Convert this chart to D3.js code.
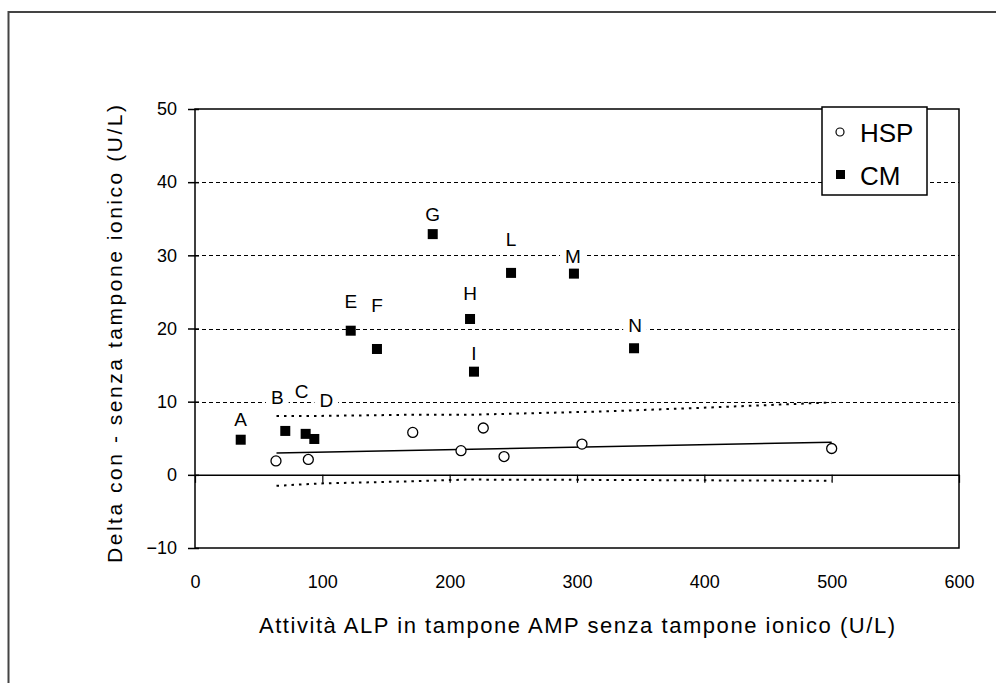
<!DOCTYPE html>
<html>
<head>
<meta charset="utf-8">
<script src="https://cdn.jsdelivr.net/npm/d3@7"></script>
<style>
  html, body { margin: 0; padding: 0; background: #fff; }
  svg text { font-family: "Liberation Sans", Arial, sans-serif; fill: #000; }
</style>
</head>
<body>
<div id="chart"></div>
<script>
// --- dati ---
// HSP (cerchi vuoti)
const hspX = [63.6, 89, 171, 208.9, 226.4, 242.7, 303.9, 500];
const hspY = [1.9, 2.1, 5.8, 3.3, 6.4, 2.5, 4.2, 3.6];

// CM (quadrati pieni) con etichette
const cmLabels = ['A', 'B', 'C', 'D', 'E', 'F', 'G', 'H', 'I', 'L', 'M', 'N'];
const cmX = [35.9, 70.9, 86.9, 93.7, 122.3, 142.9, 186.7, 216, 219.1, 248.2, 297.6, 344.8];
const cmY = [4.8, 6.0, 5.6, 4.9, 19.7, 17.2, 32.9, 21.3, 14.1, 27.6, 27.5, 17.3];

// retta di regressione HSP e bande
const fitX = [64, 500];
const fitY = [3.0, 4.45];
const upperX = [64, 96, 166, 213, 266, 318, 389, 452, 500];
const upperY = [8.05, 8.05, 8.2, 8.2, 8.43, 8.65, 9.1, 9.55, 9.9];
const lowerX = [64, 98, 131, 165, 213, 300, 400, 500];
const lowerY = [-1.5, -1.18, -1.05, -0.9, -0.65, -0.68, -0.75, -0.82];

// assi
const xTicks = [0, 100, 200, 300, 400, 500, 600];
const yTicks = [-10, 0, 10, 20, 30, 40, 50];
const gridValues = [10, 20, 30, 40];

const seriesNames = ['HSP', 'CM'];
const xTitle = 'Attività ALP in tampone AMP senza tampone ionico (U/L)';
const yTitle = 'Delta con - senza tampone ionico (U/L)';

// spostamento manuale delle etichette (px) rispetto al punto
const labelShift = [[0, -21], [-8, -34], [-4, -43], [12, -39], [0, -30], [0, -44],
                    [0, -20], [0, -26], [0, -19], [0, -34], [-1, -17], [1, -23]];

const width = 996, height = 683;

const svg = d3.select('#chart')
  .append('svg')
  .attr('width', width)
  .attr('height', height);

// cornice esterna
svg.append('rect')
  .attr('x', 8.5).attr('y', 12)
  .attr('width', 1100).attr('height', 800)
  .attr('fill', 'none')
  .attr('stroke', '#444')
  .attr('stroke-width', 2);

const x = d3.scaleLinear().domain([0, 600]).range([195, 959]);
const y = d3.scaleLinear().domain([-10, 50]).range([548, 109]);

// griglia tratteggiata
svg.append('g')
  .selectAll('line')
  .data(gridValues)
  .enter()
  .append('line')
  .attr('x1', x(0)).attr('x2', x(600))
  .attr('y1', d => Math.round(y(d)) + 0.5).attr('y2', d => Math.round(y(d)) + 0.5)
  .attr('stroke', '#000')
  .attr('stroke-width', 1)
  .attr('shape-rendering', 'crispEdges')
  .attr('stroke-dasharray', '4,3');

// bordo area grafico
svg.append('rect')
  .attr('x', x(0)).attr('y', y(50))
  .attr('width', x(600) - x(0)).attr('height', y(-10) - y(50))
  .attr('fill', 'none')
  .attr('stroke', '#000')
  .attr('stroke-width', 1.5);

// asse Y
const yAxis = svg.append('g')
  .attr('transform', `translate(${x(0)},0)`)
  .call(d3.axisLeft(y).tickValues(yTicks).tickSizeInner(7).tickSizeOuter(0).tickPadding(11));
yAxis.select('.domain').remove();
yAxis.selectAll('.tick line').attr('x1', 4).attr('stroke-width', 1.5);
yAxis.selectAll('.tick text')
  .style('font-size', '18px')
  .style('font-family', '"Liberation Sans", Arial, sans-serif')
  .attr('fill', '#000');

// asse X sullo zero (solo tacche)
const xAxisZero = svg.append('g')
  .attr('transform', `translate(0,${y(0)})`)
  .call(d3.axisBottom(x).tickValues(xTicks).tickSizeInner(8).tickSizeOuter(0).tickFormat(''));
xAxisZero.select('.domain').attr('stroke-width', 1.5);
xAxisZero.selectAll('.tick line').attr('stroke-width', 1.2);

// etichette X in basso
const xAxisLow = svg.append('g')
  .attr('transform', `translate(0,${y(-10)})`)
  .call(d3.axisBottom(x).tickValues(xTicks).tickSize(0).tickPadding(27));
xAxisLow.select('.domain').remove();
xAxisLow.selectAll('.tick text')
  .style('font-size', '18px')
  .style('font-family', '"Liberation Sans", Arial, sans-serif')
  .attr('fill', '#000');

// titoli assi
svg.append('text')
  .attr('x', 577).attr('y', 633)
  .attr('text-anchor', 'middle')
  .attr('textLength', 636)
  .attr('lengthAdjust', 'spacing')
  .style('font-size', '22px')
  .text(xTitle);

svg.append('text')
  .attr('transform', 'translate(122,334) rotate(-90)')
  .attr('text-anchor', 'middle')
  .attr('textLength', 458)
  .attr('lengthAdjust', 'spacing')
  .style('font-size', '21px')
  .text(yTitle);

// bande e retta
const line = d3.line().x(d => x(d[0])).y(d => y(d[1]));

svg.append('path')
  .datum(d3.zip(upperX, upperY))
  .attr('d', line)
  .attr('fill', 'none')
  .attr('stroke', '#000')
  .attr('stroke-width', 2)
  .attr('stroke-dasharray', '2.5,5');

svg.append('path')
  .datum(d3.zip(lowerX, lowerY))
  .attr('d', line)
  .attr('fill', 'none')
  .attr('stroke', '#000')
  .attr('stroke-width', 2)
  .attr('stroke-dasharray', '2.5,5');

svg.append('path')
  .datum(d3.zip(fitX, fitY))
  .attr('d', line)
  .attr('fill', 'none')
  .attr('stroke', '#000')
  .attr('stroke-width', 1.5);

// punti HSP
svg.append('g')
  .selectAll('circle')
  .data(d3.zip(hspX, hspY))
  .enter()
  .append('circle')
  .attr('cx', d => x(d[0]))
  .attr('cy', d => y(d[1]))
  .attr('r', 5)
  .attr('fill', '#fff')
  .attr('stroke', '#000')
  .attr('stroke-width', 1.3);

// punti CM
const cmData = cmLabels.map((name, i) => ({ name, x: cmX[i], y: cmY[i], shift: labelShift[i] }));

svg.append('g')
  .selectAll('rect')
  .data(cmData)
  .enter()
  .append('rect')
  .attr('x', d => x(d.x) - 5)
  .attr('y', d => y(d.y) - 5)
  .attr('width', 10)
  .attr('height', 10)
  .attr('fill', '#000');

// etichette con sfondo bianco
const labels = svg.append('g')
  .selectAll('g')
  .data(cmData)
  .enter()
  .append('g');

labels.append('text')
  .attr('x', d => x(d.x) + d.shift[0])
  .attr('y', d => y(d.y) + d.shift[1])
  .attr('dy', '0.36em')
  .attr('text-anchor', 'middle')
  .style('font-size', '19px')
  .text(d => d.name);

labels.each(function () {
  const g = d3.select(this);
  const bb = g.select('text').node().getBBox();
  g.insert('rect', 'text')
    .attr('x', bb.x - 5).attr('y', bb.y + 1)
    .attr('width', bb.width + 10).attr('height', bb.height - 2)
    .attr('fill', '#fff');
});

// legenda
const legend = svg.append('g');
legend.append('rect')
  .attr('x', 822).attr('y', 107)
  .attr('width', 105).attr('height', 88)
  .attr('fill', '#fff')
  .attr('stroke', '#000')
  .attr('stroke-width', 1.5);

legend.append('circle')
  .attr('cx', 840).attr('cy', 132)
  .attr('r', 4)
  .attr('fill', '#fff')
  .attr('stroke', '#000')
  .attr('stroke-width', 1.2);

legend.append('rect')
  .attr('x', 836).attr('y', 170)
  .attr('width', 9).attr('height', 9)
  .attr('fill', '#000');

legend.selectAll('text')
  .data(seriesNames)
  .enter()
  .append('text')
  .attr('x', 860)
  .attr('y', (d, i) => i === 0 ? 142 : 185)
  .style('font-size', '26px')
  .text(d => d);
</script>
</body>
</html>
